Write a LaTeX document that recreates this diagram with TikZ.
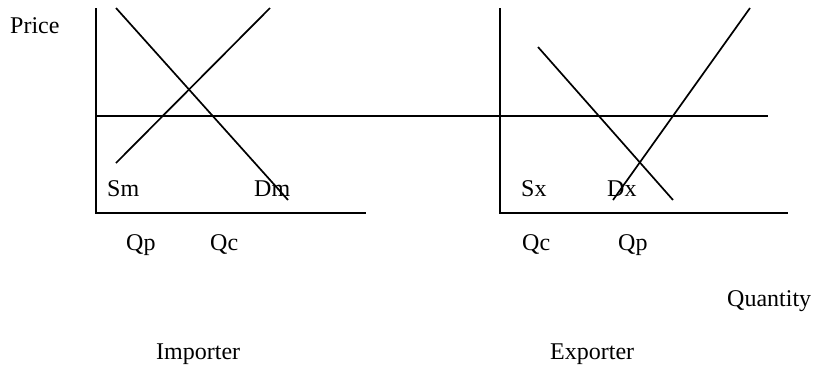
\documentclass[tikz,border=0pt]{standalone}
\usepackage{fontspec}
\setmainfont{Liberation Serif}
\begin{document}
\begin{tikzpicture}[x=1bp,y=-1bp,
  lbl/.style={anchor=base west,inner sep=0pt,font=\fontsize{24bp}{28bp}\selectfont},
  ln/.style={line width=1.7bp}]
\useasboundingbox (0,0) rectangle (814,369);
% importer axes
\coordinate (iTop) at (96,8);
\coordinate (iO) at (96,213);
\coordinate (iEnd) at (366,213);
% exporter axes
\coordinate (eTop) at (500,8);
\coordinate (eO) at (500,213);
\coordinate (eEnd) at (788,213);
% world price line
\coordinate (pL) at (96,116);
\coordinate (pR) at (768,116);
% curves
\coordinate (dmA) at (116,8);
\coordinate (dmB) at (288,200);
\coordinate (smA) at (116,163);
\coordinate (smB) at (270,8);
\coordinate (dxA) at (538,47);
\coordinate (dxB) at (673,200);
\coordinate (sxA) at (613,200);
\coordinate (sxB) at (750,8);

\draw[ln] (iTop) -- (iO) -- (iEnd);
\draw[ln] (eTop) -- (eO) -- (eEnd);
\draw[ln] (pL) -- (pR);
\draw[ln] (dmA) -- (dmB);
\draw[ln] (smA) -- (smB);
\draw[ln] (dxA) -- (dxB);
\draw[ln] (sxA) -- (sxB);

\node[lbl] (price) at (10,33) {Price};
\node[lbl] (sm) at (107,196) {Sm};
\node[lbl] (dm) at (254,196) {Dm};
\node[lbl] (sx) at (521,196) {Sx};
\node[lbl] (dx) at (607,196) {Dx};
\node[lbl] (qp1) at (126,250) {Qp};
\node[lbl] (qc1) at (210,250) {Qc};
\node[lbl] (qc2) at (522,250) {Qc};
\node[lbl] (qp2) at (618,250) {Qp};
\node[lbl] (qty) at (727,306) {Quantity};
\node[lbl] (imp) at (156,359) {Importer};
\node[lbl] (exp) at (550,359) {Exporter};
\end{tikzpicture}
\end{document}
